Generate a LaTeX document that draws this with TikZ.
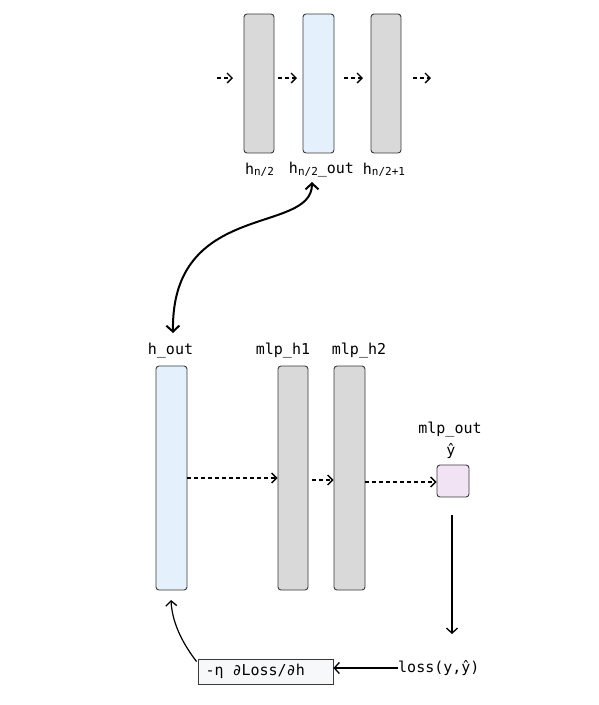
\documentclass[tikz,border=0pt]{standalone}
\usepackage{fontspec}
\setmonofont{DejaVu Sans Mono}
\usetikzlibrary{arrows.meta}
\definecolor{grayfill}{HTML}{D9D9D9}
\definecolor{bluefill}{HTML}{E4F1FC}
\definecolor{pinkfill}{HTML}{F1E3F4}
\definecolor{gradfill}{HTML}{F7F8FA}
\definecolor{boxline}{HTML}{3A3A3A}
\begin{document}
\begin{tikzpicture}[x=1pt,y=-1pt,
  layer/.style={draw=boxline, line width=0.9pt, rounded corners=3pt, inner sep=0pt},
  lbl/.style={font=\ttfamily\fontsize{15}{18}\selectfont, inner sep=0pt},
  dasharrow/.style={dash pattern=on 4pt off 3pt, line width=1.2pt, -{Straight Barb[length=5pt,width=10pt,line width=1.3pt]}},
  solidarrow/.style={line width=1.2pt, -{Straight Barb[length=5pt,width=11pt,line width=1.3pt]}},
  bigarrow/.style={line width=2pt, {Straight Barb[length=6pt,width=13pt,line width=2pt]}-{Straight Barb[length=6pt,width=13pt,line width=2pt]}}
]
\useasboundingbox (0,0) rectangle (598,705);
\newcommand{\subn}[1]{\raisebox{-1.5pt}{\fontsize{11}{12}\selectfont #1}}
% top layers
\node (t1) at (259,83.5) [layer, fill=grayfill, minimum width=30pt, minimum height=139pt] {};
\node (t2) at (318.5,83.5) [layer, fill=bluefill, minimum width=31pt, minimum height=139pt] {};
\node (t3) at (386,83.5) [layer, fill=grayfill, minimum width=30pt, minimum height=139pt] {};
\coordinate (a0) at (217,78);
\coordinate (a1) at (278,78);
\coordinate (a2) at (344,78);
\coordinate (a3) at (413,78);
\coordinate (a4) at (431,78);
\draw[dasharrow] (a0) -- (233,78);
\draw[dasharrow] (a1) -- (297,78);
\draw[dasharrow] (a2) -- (363,78);
\draw[dasharrow] (a3) -- (a4);
\node[lbl] (lt1) at (259.5,170) {h\subn{n/2}};
\node[lbl] (lt2) at (321.5,170) {h\subn{n/2}\_out};
\node[lbl] (lt3) at (384,170) {h\subn{n/2+1}};
% bottom layers
\node (hout) at (171.5,478) [layer, fill=bluefill, minimum width=31pt, minimum height=224pt] {};
\node (m1) at (293,478) [layer, fill=grayfill, minimum width=30pt, minimum height=224pt] {};
\node (m2) at (349.5,478) [layer, fill=grayfill, minimum width=31pt, minimum height=224pt] {};
\node (mo) at (453,481) [layer, fill=pinkfill, minimum width=32pt, minimum height=32pt] {};
\node[lbl] (lh) at (170.5,351) {h\_out};
\node[lbl] (lm1) at (283,351) {mlp\_h1};
\node[lbl] (lm2) at (359,351) {mlp\_h2};
\node[lbl] (lmo) at (450,430) {mlp\_out};
\node[lbl] (ly) at (451,451) {ŷ};
\draw[dasharrow] (hout.east |- 0,478) -- (m1.west |- 0,478);
\draw[dasharrow] (312,480) -- (m2.west |- 0,480);
\draw[dasharrow] (m2.east |- 0,482) -- (mo.west |- 0,482);
% loss
\node[draw=boxline, line width=0.9pt, fill=gradfill, text width=120pt, align=left, inner xsep=7.5pt, inner ysep=0pt, minimum height=25pt, font=\ttfamily\fontsize{15}{18}\selectfont] (grad) at (265.5,671.5) {-η\hspace*{9pt}∂Loss/∂h};
\node[lbl, anchor=west] (loss) at (398,668) {loss(y,ŷ)};
\coordinate (dtop) at (452,515);
\coordinate (dbot) at (452,634);
\draw[solidarrow] (dtop) -- (dbot);
\draw[solidarrow] (loss.west |- 0,668) -- (grad.east |- 0,668);
\draw[solidarrow] (grad.north west) ++(-1,3) .. controls (180,640) and (172,620) .. (171,600);
% big curve
\draw[bigarrow] (173,333) .. controls (171,200) and (312,235) .. (312,182);
\end{tikzpicture}
\end{document}
